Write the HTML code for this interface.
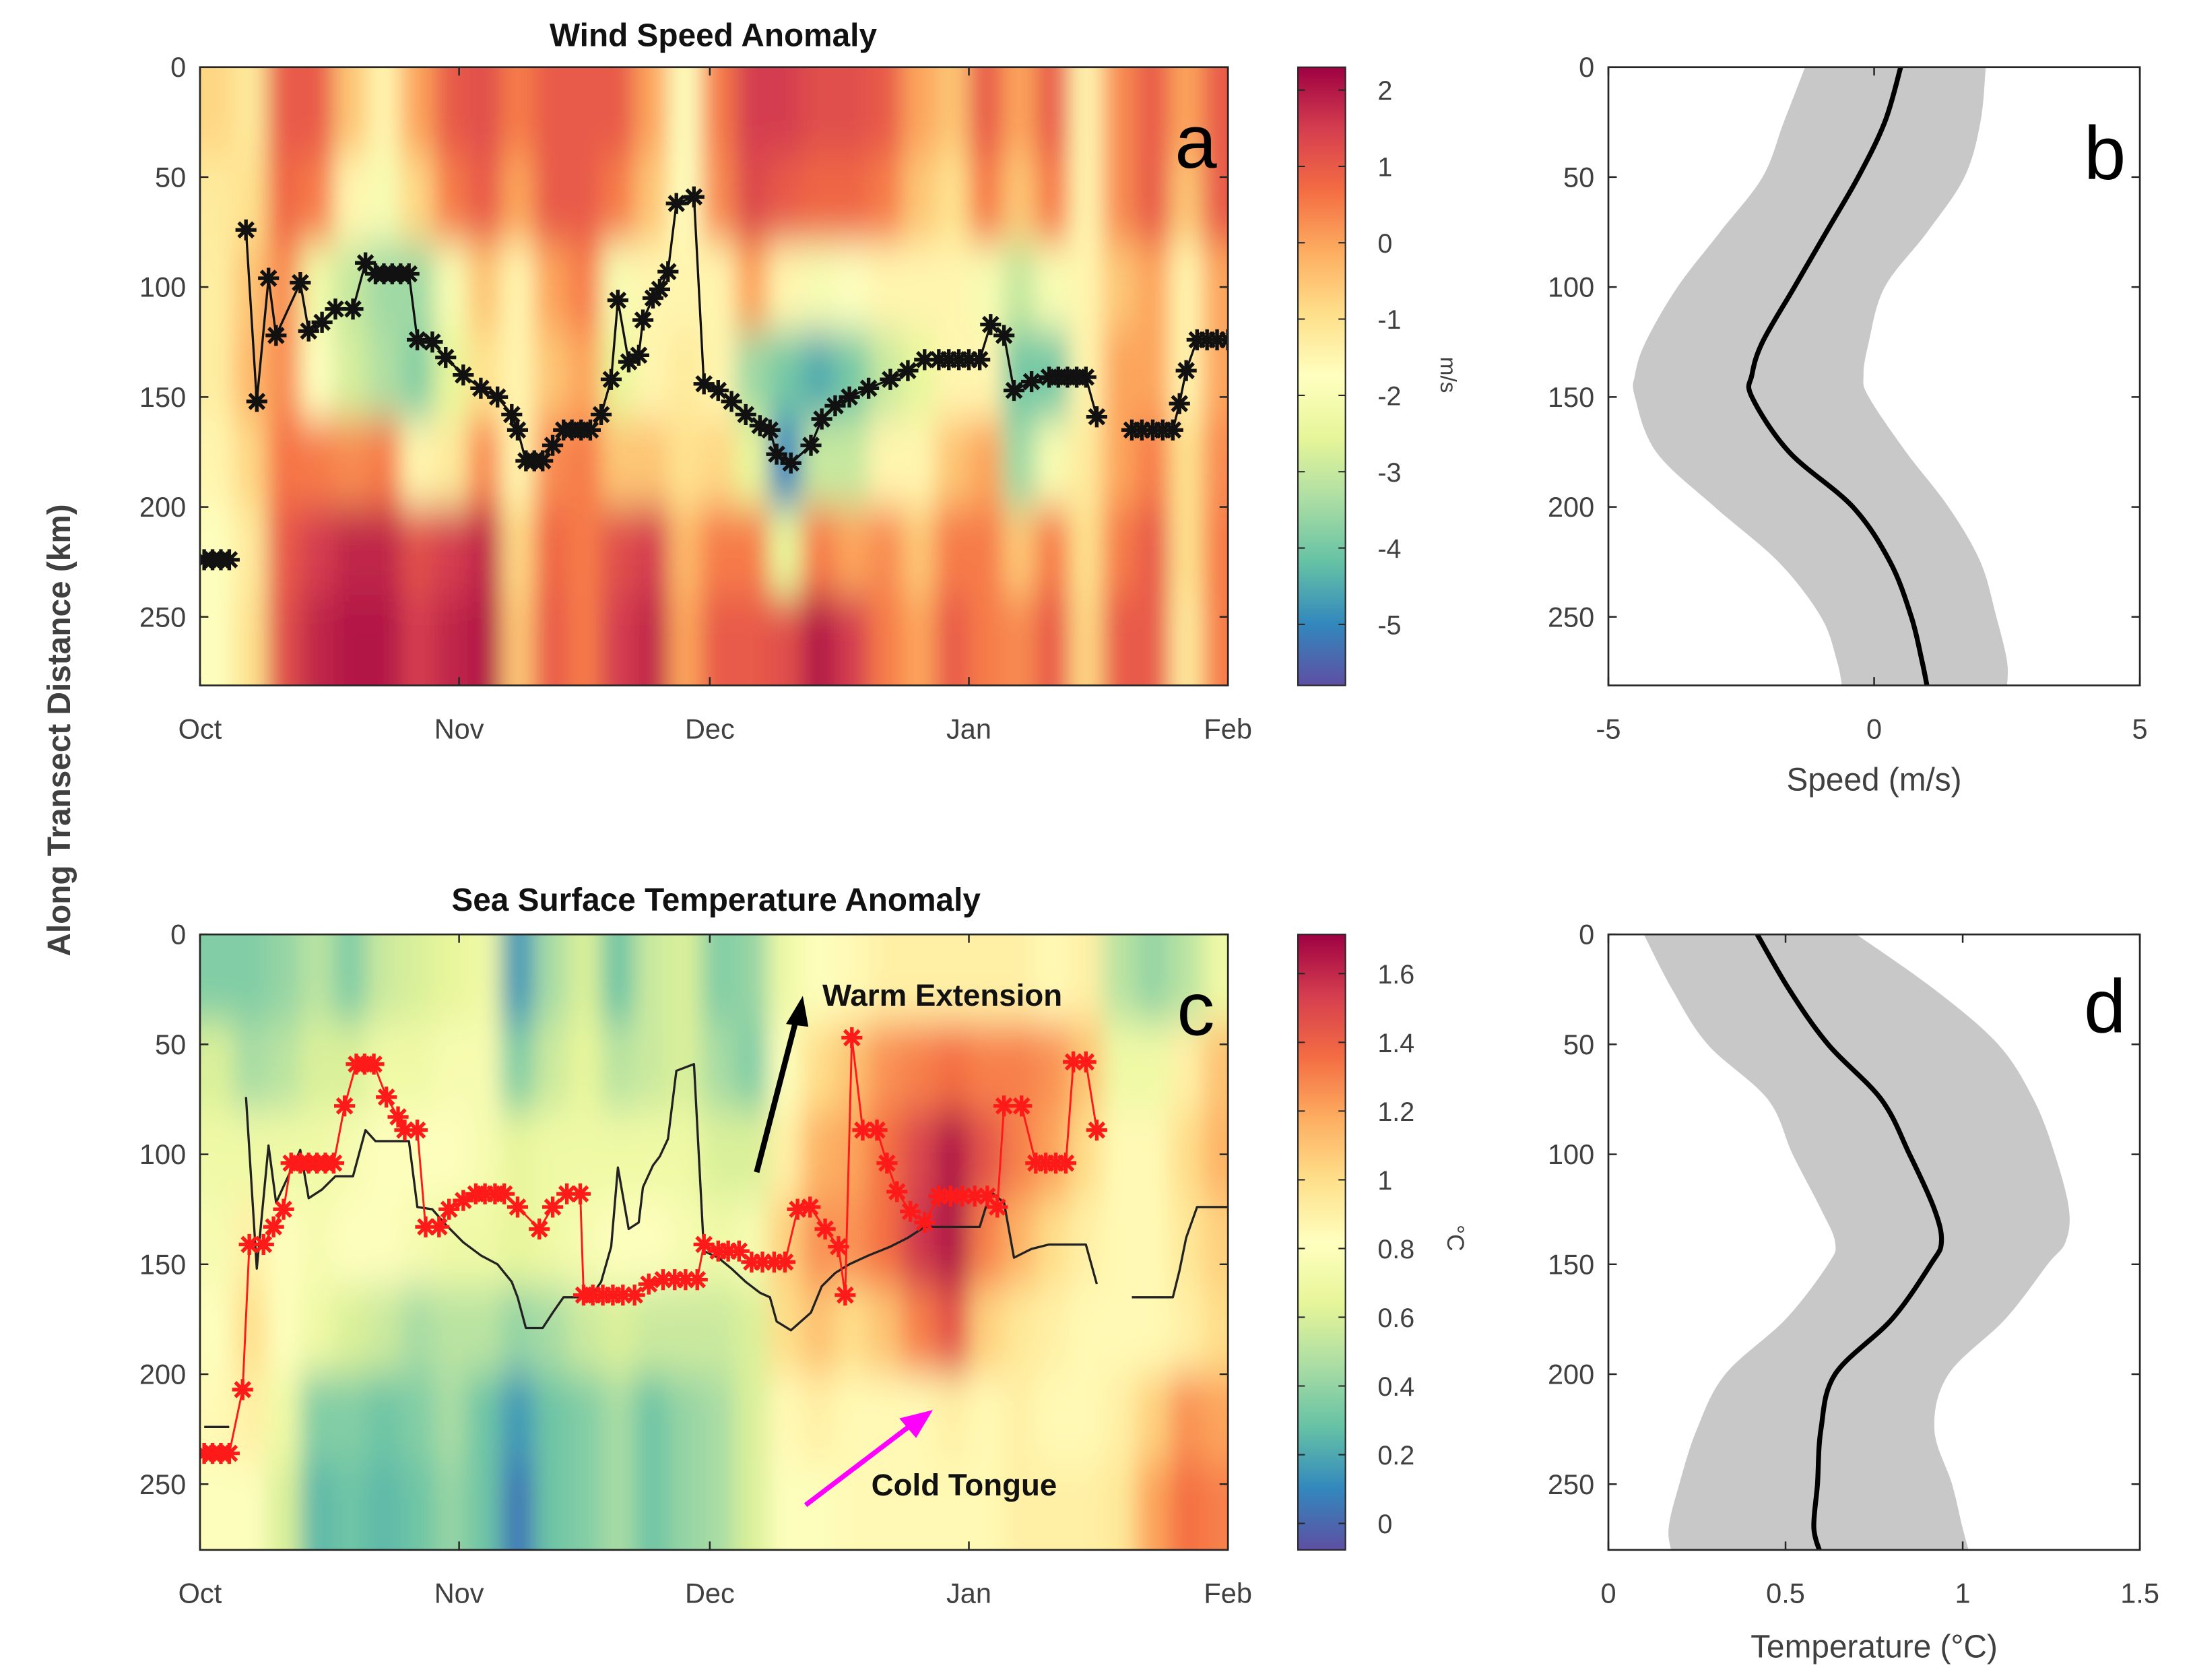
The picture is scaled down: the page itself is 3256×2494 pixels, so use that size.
<!DOCTYPE html>
<html><head><meta charset="utf-8"><style>
html,body{margin:0;padding:0;background:#fff;}
svg{display:block;}
text{font-family:"Liberation Sans",sans-serif;}
</style></head><body>
<svg id="fig" width="3256" height="2494" viewBox="0 0 1568 1201" xmlns="http://www.w3.org/2000/svg">
<defs>
<filter id="blurW" x="-5%" y="-5%" width="110%" height="110%"><feGaussianBlur stdDeviation="8 15" edgeMode="duplicate"/></filter>
<clipPath id="clipA"><rect x="143" y="48" width="735" height="442"/></clipPath>
<clipPath id="clipC"><rect x="143" y="668" width="735" height="440"/></clipPath>
<clipPath id="clipB"><rect x="1150" y="48" width="380" height="442"/></clipPath>
<clipPath id="clipD"><rect x="1150" y="668" width="380" height="440"/></clipPath>
<linearGradient id="spec" x1="0" y1="0" x2="0" y2="1">
<stop offset="0" stop-color="#9e0142"/><stop offset="0.1" stop-color="#d53e4f"/><stop offset="0.2" stop-color="#f46d43"/><stop offset="0.3" stop-color="#fdae61"/><stop offset="0.4" stop-color="#fee08b"/><stop offset="0.5" stop-color="#ffffbf"/><stop offset="0.6" stop-color="#e6f598"/><stop offset="0.7" stop-color="#abdda4"/><stop offset="0.8" stop-color="#66c2a5"/><stop offset="0.9" stop-color="#3288bd"/><stop offset="1" stop-color="#5e4fa2"/>
</linearGradient>
</defs>
<g id="root"></g>
</svg>
<script>
// ---- data ----
const windGrid = [
[-0.8,-1.2,-1.3,-1.3,-1.5,-1.8,-1.8],[-1.2,-1.0,-0.5,-0.3,-0.8,-1.2,-1.0],[1.0,0.8,0.3,0.3,0.6,1.0,1.2],
[1.0,0.5,-2.2,-1.8,0.5,1.5,1.8],[-0.5,-1.5,-3.0,-2.8,0.3,1.8,2.0],[-1.5,-2.0,-3.5,-3.3,0.5,1.8,2.0],
[0,-0.8,-3.5,-3.8,-1.5,1.2,1.5],[1.0,0.5,-2.0,-2.5,-1.2,1.5,1.8],[1.2,1.0,-0.5,-1.0,0.3,1.8,2.0],
[0.5,0,-1.5,-1.5,-1.5,-0.8,-0.5],[1.0,1.0,0,-0.5,0.3,0.8,1.0],[1.0,1.0,0.5,0,0.5,0.5,0.5],
[1.0,0.5,-2.0,-2.5,-0.5,1.2,1.5],[0,-0.5,-1.5,-1.5,-0.5,1.5,1.8],[-1.8,-1.8,-1.5,-1.2,-1.0,-0.3,0],
[0.5,0.3,-1.5,-1.5,-0.8,0.5,1.0],[1.5,1.3,0,-3.5,-2.5,0.5,1.0],[1.5,1.0,-1.5,-4.0,-5.0,-2.5,1.2],
[1.2,0.8,-2.0,-4.5,-3.0,0.5,2.0],[1.2,0.8,-1.8,-4.0,-3.0,0,1.5],[1.0,0.5,-1.5,-3.0,-1.5,0.3,0.5],
[0,-0.5,-1.5,-2.5,-1.5,-0.5,0],[-0.5,-1.0,-1.5,-1.5,-0.5,0.5,1.0],[1.0,0.5,-2.0,-1.5,0,0.5,0.5],
[0,-0.5,-3.0,-4.0,-3.5,-0.5,0.3],[1.0,0.5,-2.0,-4.0,-2.0,0.5,1.0],[-1.5,-1.5,-1.5,-1.5,-1.2,-1.0,-0.8],
[0.3,0.3,-0.5,0,0,0.5,1.0],[1.0,1.0,0,0,0.5,1.0,1.0],[0,-0.5,-1.5,-1.5,-1.0,-1.0,-1.2],[1.0,1.0,0,0,0.3,0.5,0.5]];
const sstGrid = [
[0.35,0.6,0.7,0.75,0.8,0.85,0.8],[0.35,0.45,0.7,0.9,1.0,0.9,0.8],[0.4,0.5,0.7,0.8,0.8,0.7,0.6],
[0.5,0.6,0.7,0.75,0.7,0.35,0.25],[0.35,0.6,0.75,0.8,0.6,0.35,0.3],[0.55,0.7,0.8,0.8,0.55,0.3,0.25],
[0.6,0.7,0.8,0.75,0.45,0.35,0.3],[0.65,0.75,0.8,0.7,0.5,0.45,0.4],[0.7,0.75,0.75,0.7,0.5,0.3,0.3],
[0.15,0.35,0.65,0.65,0.4,0.15,0.05],[0.45,0.55,0.7,0.7,0.45,0.3,0.3],[0.6,0.65,0.7,0.75,0.55,0.35,0.35],
[0.3,0.5,0.7,0.8,0.6,0.45,0.45],[0.55,0.55,0.7,0.8,0.55,0.3,0.3],[0.6,0.6,0.7,0.75,0.55,0.4,0.4],
[0.35,0.45,0.6,0.7,0.55,0.45,0.45],[0.4,0.35,0.6,0.75,0.6,0.6,0.6],[0.7,0.8,0.9,1.05,1.0,0.85,0.8],
[0.8,1.0,1.15,1.25,1.1,0.9,0.8],[0.85,1.1,1.2,1.25,1.0,0.85,0.85],[0.9,1.25,1.35,1.35,1.1,0.85,0.85],
[0.9,1.3,1.5,1.55,1.3,0.85,0.85],[0.9,1.35,1.65,1.65,1.45,0.9,0.85],[0.9,1.3,1.45,1.3,1.05,0.85,0.85],
[0.9,1.3,1.3,1.15,0.95,0.9,0.9],[0.85,1.25,1.2,1.0,0.9,0.85,0.9],[0.9,1.1,1.0,0.9,0.85,0.85,0.9],
[0.5,0.7,0.85,0.85,0.85,0.9,0.95],[0.4,0.7,0.85,0.85,0.85,1.05,1.2],[0.5,0.9,1.0,0.95,0.9,1.25,1.35],[0.7,1.1,1.15,1.05,1.0,1.2,1.3]];
const windLineDays = [0.5,1.5,2.5,3.5,null,5.5,6.8,8.2,9.1,12,13,14.6,16.2,18.3,19.8,21,22,23,24,25,26,27.8,29.4,31.5,33.6,35.6,37.3,38,39,40,41,42.2,43.5,44.5,45.6,46.7,48,49.2,50,51.3,52.5,53,54.2,55,56,57,59.1,60.3,62,63.6,65.3,67,68.2,69,70.7,73.1,74.4,76,77.7,80,82.6,84.7,86.7,88.4,89.6,90.8,92,93.3,94.6,96.2,97.4,99.5,101.6,102.7,103.8,104.9,106,107.3,null,111.5,112.7,114,115.2,116.4,117.2,118,119.3,120.5,121.7,123];
const windLineKm = [224,224,224,224,null,74,152,96,122,98,120,116,110,110,89,94,94,94,94,94,124,125,132,140,146,150,158,165,179,179,179,172,165,165,165,165,158,142,106,134,131,115,105,101,93,62,59,144,147,152,158,163,165,176,180,172,160,154,150,146,142,138,133,133,133,133,133,133,117,122,147,143,141,141,141,141,141,159,null,165,165,165,165,165,153,138,124,124,124,124];
const sstLineDays = [0.5,1.5,2.5,3.5,5.1,5.9,7.6,8.8,10,10.9,12,13,14,15,16,17.3,18.7,19.7,20.8,22.3,23.7,24.5,26,27,28.6,29.8,31.5,33,34.1,35.3,36.4,38,40.6,42.2,43.9,45.5,45.9,47,48.2,49.4,50.6,52,53.7,55.4,56.8,58.1,59.5,60.3,62,63.2,64.5,66,67.3,68.7,70,71.5,73,74.8,76.4,77.2,78,79.3,81,82.2,83.4,85,86.7,88.4,89.8,91.2,92.7,94.2,95.4,96.2,98.3,100,101.2,102.4,103.6,104.5,106,107.3];
const sstLineKm = [236,236,236,236,207,141,141,133,125,104,104,104,104,104,104,78,59,59,59,74,83,89,89,133,133,125,121,118,118,118,118,124,134,124,118,118,164,164,164,164,164,164,159,157,157,157,157,141,144,144,144,149,149,149,149,125,124,134,142,164,47,89,89,104,117,126,131,119,119,119,119,119,124,78,78,104,104,104,104,58,58,89];
const profKm = [0,25,50,75,100,125,140,150,175,200,225,250,270,282];
const windMean = [0.5,0.2,-0.3,-0.9,-1.5,-2.1,-2.3,-2.3,-1.6,-0.4,0.3,0.7,0.9,1.0];
const windLo = [-1.3,-1.7,-2.1,-2.9,-3.7,-4.3,-4.5,-4.5,-4.1,-3.0,-1.8,-1.0,-0.7,-0.6];
const windHi = [2.1,2.0,1.7,1.0,0.2,-0.1,-0.2,-0.1,0.6,1.4,2.0,2.3,2.5,2.5];
const sstMean = [0.42,0.51,0.62,0.77,0.85,0.92,0.94,0.91,0.8,0.64,0.6,0.59,0.58,0.6];
const sstLo = [0.1,0.18,0.28,0.45,0.52,0.6,0.64,0.62,0.5,0.33,0.25,0.2,0.17,0.18];
const sstHi = [0.7,0.92,1.1,1.2,1.26,1.3,1.29,1.24,1.12,0.96,0.92,0.97,1.0,1.02];
const monthLabels = ["Oct","Nov","Dec","Jan","Feb"];
const monthDays = [0,31,61,92,123];
const kmTicks = [0,50,100,150,200,250];
const windCbTicks = [2,1,0,-1,-2,-3,-4,-5];
const sstCbTicks = [1.6,1.4,1.2,1,0.8,0.6,0.4,0.2,0];
const speedTicks = [-5,0,5];
const tempTicks = [0,0.5,1,1.5];

// ---- helpers ----
const NS="http://www.w3.org/2000/svg";
const root=document.getElementById('root');
function mk(tag,attrs,parent){const e=document.createElementNS(NS,tag);for(const k in attrs)e.setAttribute(k,attrs[k]);(parent||root).appendChild(e);return e;}
const SPEC=["#9e0142","#d53e4f","#f46d43","#fdae61","#fee08b","#ffffbf","#e6f598","#abdda4","#66c2a5","#3288bd","#5e4fa2"];
function hex(h){return [1,3,5].map(i=>parseInt(h.substr(i,2),16));}
function cmap(v,vmax,vmin){let t=(vmax-v)/(vmax-vmin)*10;t=Math.max(0,Math.min(10,t));const i=Math.min(9,Math.floor(t)),f=t-i;const a=hex(SPEC[i]),b=hex(SPEC[i+1]);return 'rgb('+a.map((x,k)=>Math.round(x+(b[k]-x)*f)).join(',')+')';}
const X0=143,XW=735;
function xDay(d){return X0+d*XW/123;}
function yKm(km,top){return top+km*1.572;}
const COLW=4, ROWH=40;

function heatmap(grid,top,clip,vmax,vmin,name){
  const outer=mk('g',{'clip-path':'url(#'+clip+')'});
  
  
  const g=mk('g',{filter:'url(#blurW)'},outer);
  grid.forEach((col,ci)=>{col.forEach((v,ri)=>{
    let d0=ci*COLW,d1=d0+COLW,k0=ri*ROWH,k1=k0+ROWH;
    if(ci===0)d0-=8; if(ci===grid.length-1)d1+=8;
    if(ri===0)k0-=30; if(ri===col.length-1)k1+=40;
    const r=mk('rect',{x:xDay(d0),y:yKm(k0,top),width:xDay(d1)-xDay(d0)+0.6,height:yKm(k1,top)-yKm(k0,top)+0.6,fill:cmap(v,vmax,vmin)},g);
    
    
  });});
}
function star(x,y,color,parent,r){const p=mk('path',{d:`M${x-r},${y}H${x+r}M${x},${y-r}V${y+r}M${x-r*0.7},${y-r*0.7}L${x+r*0.7},${y+r*0.7}M${x-r*0.7},${y+r*0.7}L${x+r*0.7},${y-r*0.7}`,stroke:color,'stroke-width':2.6,fill:'none'},parent);
  
  }
function series(days,kms,top,color,width,markers,clip,name){
  const g=mk('g',{'clip-path':'url(#'+clip+')'});
  
  
  let d='',pen=false;
  days.forEach((dd,i)=>{if(dd===null){pen=false;return;}d+=(pen?'L':'M')+xDay(dd).toFixed(1)+','+yKm(kms[i],top).toFixed(1);pen=true;});
  mk('path',{d:d,fill:'none',stroke:color,'stroke-width':width,'stroke-linejoin':'round'},g);
  if(markers)days.forEach((dd,i)=>{if(dd!==null)star(xDay(dd),yKm(kms[i],top),color,g,7.5);});
}
function txt(x,y,s,attrs,name){const t=mk('text',Object.assign({x:x,y:y},attrs));t.textContent=s;return t;}
const AX='#262626', TK='#404040';
function frame(x,y,w,h,name){const r=mk('rect',{x:x,y:y,width:w,height:h,fill:'none',stroke:AX,'stroke-width':1.3});}
function yAxis(top,xl,xr,name){kmTicks.forEach(k=>{const y=yKm(k,top);mk('path',{d:`M${xl},${y}h6M${xr},${y}h-6`,stroke:AX,'stroke-width':1.2});txt(xl-10,y+7,String(k),{'text-anchor':'end','font-size':20,fill:TK},name+'-tick-label');});}
// smooth curve through points (Catmull-Rom)
function smooth(pts){let d='M'+pts[0][0].toFixed(1)+','+pts[0][1].toFixed(1);
 for(let i=0;i<pts.length-1;i++){const p0=pts[Math.max(0,i-1)],p1=pts[i],p2=pts[i+1],p3=pts[Math.min(pts.length-1,i+2)];
  const c1=[p1[0]+(p2[0]-p0[0])/6,p1[1]+(p2[1]-p0[1])/6],c2=[p2[0]-(p3[0]-p1[0])/6,p2[1]-(p3[1]-p1[1])/6];
  d+=`C${c1[0].toFixed(1)},${c1[1].toFixed(1)} ${c2[0].toFixed(1)},${c2[1].toFixed(1)} ${p2[0].toFixed(1)},${p2[1].toFixed(1)}`;}
 return d;}

// ---- panel a ----
heatmap(windGrid,48,'clipA',2.3,-5.8,'wind-heatmap');
series(windLineDays,windLineKm,48,'#111',1.6,true,'clipA','wind-minimum-line');
frame(143,48,735,442,'panel-a-axes');
yAxis(48,143,878,'panel-a-y');
monthDays.forEach((d,i)=>{const x=xDay(d);mk('path',{d:`M${x},490v-6M${x},48v6`,stroke:AX,'stroke-width':1.2});txt(x,528,monthLabels[i],{'text-anchor':'middle','font-size':20,fill:TK},'panel-a-x-tick-label');});
txt(510,33,'Wind Speed Anomaly',{'text-anchor':'middle','font-size':23,'font-weight':'bold',fill:'#111'},'panel-a-title');
txt(855,120,'a',{'text-anchor':'middle','font-size':54,fill:'#000'},'panel-a-letter');

function colorbar(top,h,vmax,vmin,ticks,name){const r=mk('rect',{x:928,y:top,width:34,height:h,fill:'url(#spec)',stroke:AX,'stroke-width':1});
 ticks.forEach(v=>{const y=top+(vmax-v)/(vmax-vmin)*h;mk('path',{d:`M928,${y}h5M962,${y}h-5`,stroke:AX,'stroke-width':1});txt(985,y+7,String(v),{'font-size':19,fill:TK},name+'-tick-label');});}
colorbar(48,442,2.3,-5.8,windCbTicks,'wind-colorbar');
txt(0,0,'m/s',{'font-size':16,fill:TK,transform:'translate(1030,268) rotate(90)','text-anchor':'middle'},'wind-colorbar-label');

// ---- profiles ----
function profile(top,h,xmin,xmax,mean,lo,hi,clip,name){
 const sx=v=>1150+(v-xmin)/(xmax-xmin)*380;
 const g=mk('g',{'clip-path':'url(#'+clip+')'});
 const loPts=profKm.map((k,i)=>[sx(lo[i]),yKm(k,top)]);
 const hiPts=profKm.map((k,i)=>[sx(hi[i]),yKm(k,top)]).reverse();
 const dHi=smooth(hiPts).replace(/^M/,'L');
 const band=mk('path',{d:smooth(loPts)+dHi+'Z',fill:'#c8c8c8'},g);
 const ml=mk('path',{d:smooth(profKm.map((k,i)=>[sx(mean[i]),yKm(k,top)])),fill:'none',stroke:'#000','stroke-width':3.5,'stroke-linejoin':'round'},g);
 return sx;}
const sxB=profile(48,442,-5,5,windMean,windLo,windHi,'clipB','speed-profile');
frame(1150,48,380,442,'panel-b-axes');
yAxis(48,1150,1530,'panel-b-y');
speedTicks.forEach(v=>{const x=sxB(v);mk('path',{d:`M${x},490v-6M${x},48v6`,stroke:AX,'stroke-width':1.2});txt(x,528,String(v),{'text-anchor':'middle','font-size':20,fill:TK},'panel-b-x-tick-label');});
txt(1340,565,'Speed (m/s)',{'text-anchor':'middle','font-size':23,fill:TK},'panel-b-x-title');
txt(1505,128,'b',{'text-anchor':'middle','font-size':54,fill:'#000'},'panel-b-letter');

// ---- panel c ----
heatmap(sstGrid,668,'clipC',1.71,-0.08,'sst-heatmap');
series(windLineDays,windLineKm,668,'#222',1.6,false,'clipC','wind-minimum-line-overlay');
series(sstLineDays,sstLineKm,668,'#ff1a1a',1.4,true,'clipC','sst-maximum-line');
frame(143,668,735,440,'panel-c-axes');
yAxis(668,143,878,'panel-c-y');
monthDays.forEach((d,i)=>{const x=xDay(d);mk('path',{d:`M${x},1108v-6M${x},668v6`,stroke:AX,'stroke-width':1.2});txt(x,1146,monthLabels[i],{'text-anchor':'middle','font-size':20,fill:TK},'panel-c-x-tick-label');});
txt(512,651,'Sea Surface Temperature Anomaly',{'text-anchor':'middle','font-size':23,'font-weight':'bold',fill:'#111'},'panel-c-title');
txt(855,740,'c',{'text-anchor':'middle','font-size':54,fill:'#000'},'panel-c-letter');
const a1=mk('path',{d:'M541,838L570,726',stroke:'#000','stroke-width':4});
const h1=mk('path',{d:'M574,712L562,732L578,734Z',fill:'#000'});
txt(588,719,'Warm Extension',{'font-size':22,'font-weight':'bold',fill:'#111'},'warm-extension-label');
const a2=mk('path',{d:'M576,1076L655,1016',stroke:'#ff00ff','stroke-width':3.5});
const h2=mk('path',{d:'M667,1008L643,1014L655,1028Z',fill:'#ff00ff'});
txt(623,1069,'Cold Tongue',{'font-size':22,'font-weight':'bold',fill:'#111'},'cold-tongue-label');
colorbar(668,440,1.714,-0.077,sstCbTicks,'sst-colorbar');
txt(0,0,'°C',{'font-size':17,fill:TK,transform:'translate(1035,885) rotate(90)','text-anchor':'middle'},'sst-colorbar-label');

// ---- panel d ----
const sxD=profile(668,440,0,1.5,sstMean,sstLo,sstHi,'clipD','temperature-profile');
frame(1150,668,380,440,'panel-d-axes');
yAxis(668,1150,1530,'panel-d-y');
tempTicks.forEach(v=>{const x=sxD(v);mk('path',{d:`M${x},1108v-6M${x},668v6`,stroke:AX,'stroke-width':1.2});txt(x,1146,String(v),{'text-anchor':'middle','font-size':20,fill:TK},'panel-d-x-tick-label');});
txt(1340,1185,'Temperature (°C)',{'text-anchor':'middle','font-size':23,fill:TK},'panel-d-x-title');
txt(1505,738,'d',{'text-anchor':'middle','font-size':54,fill:'#000'},'panel-d-letter');

txt(0,0,'Along Transect Distance (km)',{'font-size':23,'font-weight':'bold',fill:TK,'text-anchor':'middle',transform:'translate(50,522) rotate(-90)'},'y-axis-title');
</script>
</body></html>
